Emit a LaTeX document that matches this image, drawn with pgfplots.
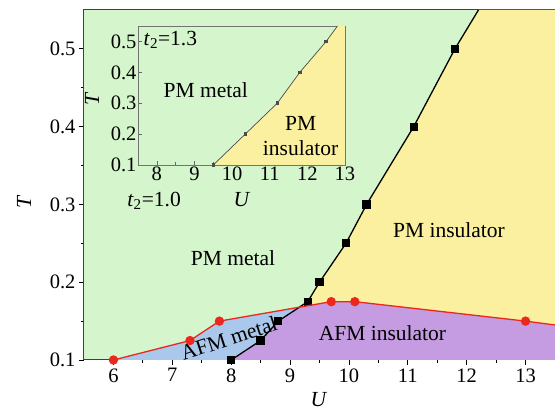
\documentclass[border=0pt]{standalone}
\usepackage{fontspec}
\setmainfont{Liberation Serif}
\usepackage{pgfplots}
\pgfplotsset{compat=1.18}
\definecolor{pmgreen}{HTML}{D5F5CD}
\definecolor{pmyellow}{HTML}{FAF0A0}
\definecolor{afmpurple}{HTML}{C59BE1}
\definecolor{afmblue}{HTML}{AAC8EB}
\definecolor{redl}{HTML}{EB281E}
\newcommand{\bigf}{\fontsize{20.5}{24}\selectfont}
\newcommand{\txtf}{\fontsize{21.5}{25}\selectfont}
\begin{document}
\begin{tikzpicture}
\begin{axis}[
  at={(0pt,0pt)}, anchor=south west,
  scale only axis, width=471pt, height=350pt,
  xmin=5.5, xmax=13.5, ymin=0.1, ymax=0.55,
  xtick={6,7,8,9,10,11,12,13}, ytick={0.1,0.2,0.3,0.4,0.5},
  minor x tick num=1, minor y tick num=1,
  tick align=outside, tick pos=left,
  major tick length=5pt, minor tick length=3pt,
  every tick/.style={black, line width=0.8pt},
  axis line style={black!75, line width=1pt},
  axis background/.style={fill=pmgreen},
  /pgf/number format/assume math mode=true,
  ticklabel style={font=\bigf},
  yticklabel style={/pgf/number format/fixed, /pgf/number format/precision=1, /pgf/number format/fixed zerofill},
  xlabel={\textit{U}}, ylabel={\textit{T}},
  label style={font=\txtf},
  x label style={at={(axis description cs:0.499,0)}, anchor=center, yshift=-40pt},
  y label style={at={(axis description cs:0,0.451)}, anchor=center, yshift=60pt},
  clip mode=individual,
]
% PM insulator (right of black line)
\addplot[fill=pmyellow, draw=none] coordinates {
  (8.0,0.1) (8.5,0.125) (8.8,0.15) (9.3,0.175) (9.5,0.2) (9.95,0.25) (10.3,0.3) (11.1,0.4) (11.8,0.5) (12.2,0.55) (13.5,0.55) (13.5,0.1)
} -- cycle;
% AFM metal (below red line)
\addplot[fill=afmblue, draw=none] coordinates {
  (6.0,0.1) (7.3,0.125) (7.8,0.15) (9.7,0.175) (10.1,0.175) (13.0,0.15) (13.5,0.145) (13.5,0.1)
} -- cycle;
% AFM insulator
\addplot[fill=afmpurple, draw=none] coordinates {
  (8.0,0.1) (8.5,0.125) (8.8,0.15) (9.158,0.168) (9.7,0.175) (10.1,0.175) (13.0,0.15) (13.5,0.145) (13.5,0.1)
} -- cycle;
% black boundary
\addplot[black, line width=1.3pt, mark=square*, mark size=3.5pt] coordinates {
  (8.0,0.1) (8.5,0.125) (8.8,0.15) (9.3,0.175) (9.5,0.2) (9.95,0.25) (10.3,0.3) (11.1,0.4) (11.8,0.5)
};
\addplot[black, line width=1.3pt] coordinates {(11.8,0.5) (12.2,0.55)};
% red boundary
\addplot[redl, line width=1.3pt, mark=*, mark size=4pt] coordinates {
  (6.0,0.1) (7.3,0.125) (7.8,0.15) (9.7,0.175) (10.1,0.175) (13.0,0.15)
};
\addplot[redl, line width=1.3pt] coordinates {(13.0,0.15) (13.5,0.145)};
\node[font=\txtf] at (axis cs:8.03,0.231) {PM metal};
\node[font=\txtf] at (axis cs:11.7,0.267) {PM insulator};
\node[font=\txtf] at (axis cs:10.57,0.135) {AFM insulator};
\node[font=\txtf, rotate=18, inner sep=0pt] at (axis cs:7.96,0.128) {AFM metal};
\node[font=\txtf] at (axis cs:6.69,0.305) {\textit{t}\textsubscript{2}=1.0};
\end{axis}
\begin{axis}[
  at={(54pt,195pt)}, anchor=south west,
  scale only axis, width=207pt, height=139pt,
  xmin=7.5, xmax=13, ymin=0.1, ymax=0.55,
  xtick={8,9,10,11,12,13}, ytick={0.1,0.2,0.3,0.4,0.5},
  minor x tick num=1,
  tick align=inside, tick pos=left,
  major tick length=4pt, minor tick length=2.5pt,
  every tick/.style={black!60, line width=0.6pt},
  axis line style={black!55, line width=0.8pt},
  axis background/.style={fill=pmgreen},
  /pgf/number format/assume math mode=true,
  ticklabel style={font=\bigf},
  yticklabel style={/pgf/number format/fixed, /pgf/number format/precision=1, /pgf/number format/fixed zerofill, xshift=2pt},
  xticklabel style={yshift=2pt},
  xlabel={\textit{U}}, ylabel={\textit{T}},
  label style={font=\txtf},
  x label style={at={(axis description cs:0.502,0)}, anchor=center, yshift=-35pt},
  y label style={at={(axis description cs:0,0.475)}, anchor=center, yshift=46pt},
  clip mode=individual,
]
\addplot[fill=pmyellow, draw=none] coordinates {
  (9.5,0.1) (10.35,0.2) (11.2,0.3) (11.8,0.4) (12.5,0.5) (12.8,0.55) (13,0.55) (13,0.1)
} -- cycle;
\addplot[black!70, line width=0.7pt, mark=square*, mark size=1.4pt] coordinates {
  (9.5,0.1) (10.35,0.2) (11.2,0.3) (11.8,0.4) (12.5,0.5)
};
\addplot[black!70, line width=0.7pt] coordinates {(12.5,0.5) (12.8,0.55)};
\node[font=\txtf, anchor=north west] at (rel axis cs:0.01,0.99) {\textit{t}\textsubscript{2}=1.3};
\node[font=\txtf] at (axis cs:9.3,0.343) {PM metal};
\node[font=\txtf, align=center, inner sep=0pt] at (axis cs:11.82,0.194) {PM\\insulator};
\end{axis}
\pgfresetboundingbox
\useasboundingbox (-84pt,-54pt) rectangle (471pt,360pt);
\end{tikzpicture}
\end{document}
